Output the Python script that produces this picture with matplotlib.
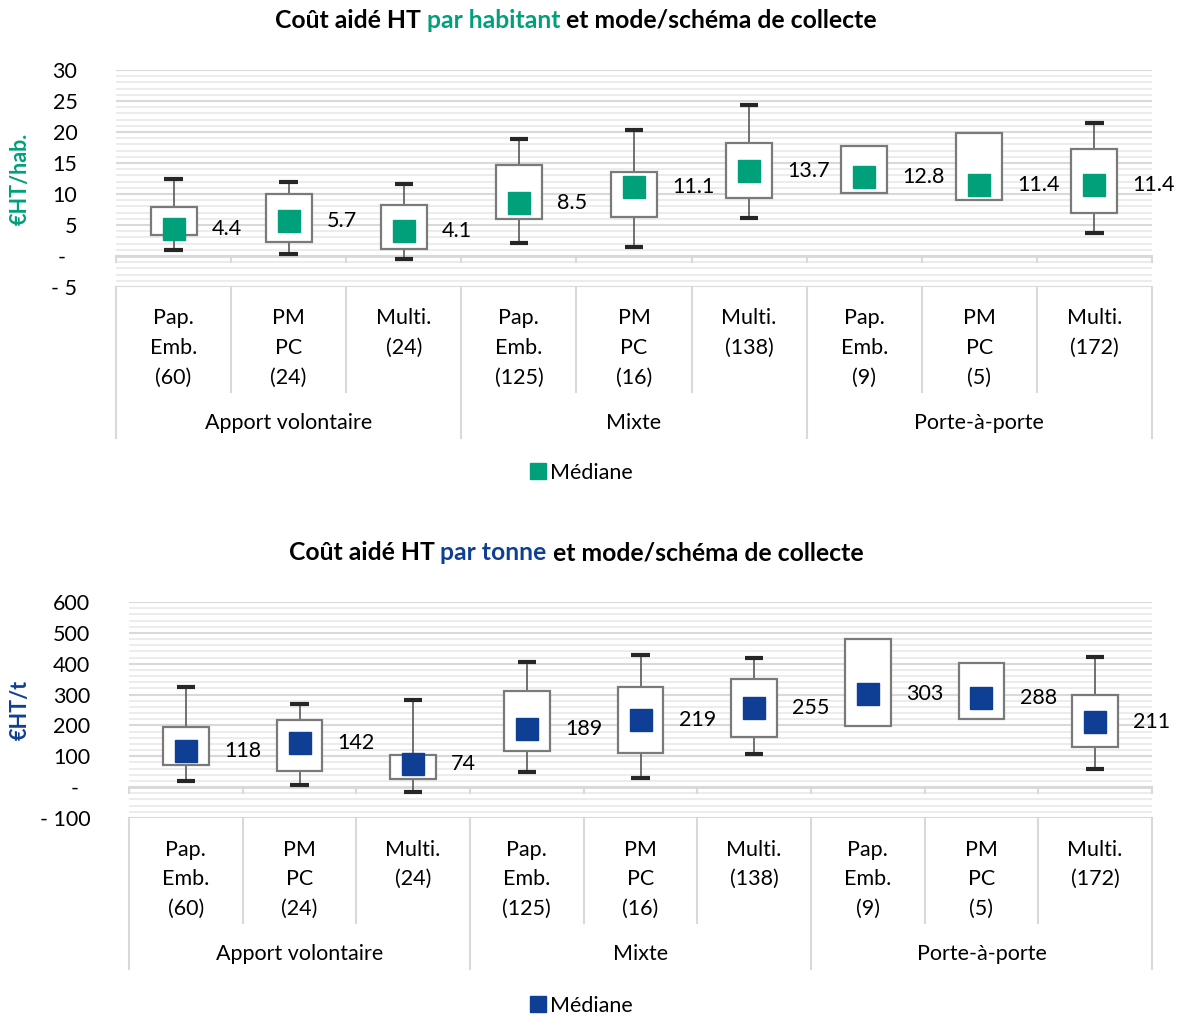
import matplotlib
matplotlib.use("Agg")
import matplotlib.pyplot as plt
import matplotlib.transforms as mtransforms
from matplotlib.lines import Line2D
from matplotlib.patches import Rectangle

plt.rcParams['font.family'] = ['Lato', 'DejaVu Sans']

W, H = 1184, 1018
FS = 15.5
TITLE_FS = 17.8

# Category axis: two levels (collection scheme / collection mode)
sub_labels = [["Pap.", "Emb.", "(60)"], ["PM", "PC", "(24)"], ["Multi.", "(24)"],
              ["Pap.", "Emb.", "(125)"], ["PM", "PC", "(16)"], ["Multi.", "(138)"],
              ["Pap.", "Emb.", "(9)"], ["PM", "PC", "(5)"], ["Multi.", "(172)"]]
groups = ["Apport volontaire", "Mixte", "Porte-à-porte"]

# Cost per inhabitant (€HT/hab.)
hab_min = [1.0, 0.3, -0.5, 2.1, 1.5, 6.1, 10.1, 9.1, 3.7]
hab_q1 = [3.4, 2.2, 1.1, 5.9, 6.3, 9.3, 10.1, 9.1, 7.0]
hab_med = [4.4, 5.7, 4.1, 8.5, 11.1, 13.7, 12.8, 11.4, 11.4]
hab_q3 = [7.9, 10.0, 8.3, 14.7, 13.6, 18.3, 17.7, 19.8, 17.3]
hab_max = [12.5, 11.9, 11.6, 18.9, 20.4, 24.4, 17.7, 19.8, 21.5]
hab_ticks = [-5, 0, 5, 10, 15, 20, 25, 30]
hab_ticklabels = ["- 5", "-  ", "5", "10", "15", "20", "25", "30"]

# Cost per tonne (€HT/t)
t_min = [20, 7, -17, 50, 31, 109, 199, 221, 59]
t_q1 = [71, 51, 27, 118, 110, 164, 199, 221, 129]
t_med = [118, 142, 74, 189, 219, 255, 303, 288, 211]
t_q3 = [194, 218, 104, 311, 325, 352, 479, 402, 298]
t_max = [323, 269, 281, 407, 427, 417, 479, 402, 423]
t_ticks = [-100, 0, 100, 200, 300, 400, 500, 600]
t_ticklabels = ["- 100", "-  ", "100", "200", "300", "400", "500", "600"]

GREEN = "#00A07A"
BLUE = "#0F3F94"
GRID = "#D9D9D9"
GRID_MINOR = "#EAEAEA"

fig = plt.figure(figsize=(W / 100, H / 100), dpi=100)


def fy(p):
    return 1 - p / H


def rich_title(y_px, parts, cx_px=576):
    """Centre a one-line title made of differently coloured pieces."""
    fig.canvas.draw()
    r = fig.canvas.get_renderer()
    objs, widths = [], []
    for s, c in parts:
        t = fig.text(0, fy(y_px), s, color=c, fontsize=TITLE_FS, fontweight='bold',
                     va='center', ha='left')
        widths.append(t.get_window_extent(renderer=r).width)
        objs.append(t)
    x = cx_px - sum(widths) / 2
    for t, w in zip(objs, widths):
        t.set_x(x / W)
        x += w


def panel(left, right, top, bottom, ylim, ticks, ticklabels, minor_step,
          vmin, q1, med, q3, vmax, fmt, color, ylabel, title_parts, title_y,
          legend_y):
    ax = fig.add_axes([left / W, fy(bottom), (right - left) / W, (bottom - top) / H])
    n = len(med)
    ax.set_xlim(0, n)
    ax.set_ylim(*ylim)
    for s in ax.spines.values():
        s.set_visible(False)
    ax.set_xticks([])
    ax.set_yticks(ticks)
    ax.set_yticklabels(ticklabels, fontsize=FS)
    ax.tick_params(axis='y', length=0, pad=27.8)
    minors = []
    v = ylim[0]
    while v <= ylim[1] + 1e-9:
        minors.append(v)
        v += minor_step
    ax.set_yticks(minors, minor=True)
    ax.tick_params(axis='y', which='minor', length=0)
    ax.grid(axis='y', which='minor', color=GRID_MINOR, lw=1.3)
    ax.grid(axis='y', which='major', color=GRID, lw=1.5)
    ax.set_axisbelow(True)

    # horizontal axis at zero with small downward ticks at category boundaries
    ax.axhline(0, color=GRID, lw=2, zorder=1)
    btr = mtransforms.blended_transform_factory(ax.transData, fig.transFigure)
    y0_px = H - ax.transData.transform((0, 0))[1]
    for b in range(n + 1):
        ax.add_line(Line2D([b, b], [fy(y0_px), fy(y0_px + 6)], transform=btr,
                           color=GRID, lw=1.5, clip_on=False))

    # box plots: whiskers, box, median marker and its value
    bw = 0.4
    cw = 0.16
    for i in range(n):
        x = i + 0.5
        if vmax[i] > q3[i]:
            ax.plot([x, x], [q3[i], vmax[i]], color="#595959", lw=1.2, zorder=2)
            ax.plot([x - cw / 2, x + cw / 2], [vmax[i], vmax[i]], color="#262626",
                    lw=3, solid_capstyle='butt', zorder=3)
        if vmin[i] < q1[i]:
            ax.plot([x, x], [vmin[i], q1[i]], color="#595959", lw=1.2, zorder=2)
            ax.plot([x - cw / 2, x + cw / 2], [vmin[i], vmin[i]], color="#262626",
                    lw=3, solid_capstyle='butt', zorder=3)
        ax.add_patch(Rectangle((x - bw / 2, q1[i]), bw, q3[i] - q1[i],
                               facecolor='white', edgecolor="#7A7A7A", lw=1.6, zorder=4))
        ax.plot([x], [med[i]], marker='s', ms=16, color=color, mec=color, zorder=5)
        ax.annotate(fmt.format(med[i]), (x, med[i]), xytext=(27.5, 0),
                    textcoords='offset points', ha='left', va='center',
                    fontsize=FS, color='black', zorder=6)

    # two-level category table below the plot area
    for b in range(n + 1):
        end = bottom + (151 if b % 3 == 0 else 105)
        ax.add_line(Line2D([b, b], [fy(bottom), fy(end)], transform=btr,
                           color=GRID, lw=1.5, clip_on=False))
    line_offsets = [31.5, 61, 90.5]
    for i, lines in enumerate(sub_labels):
        for k, s in enumerate(lines):
            ax.text(i + 0.5, fy(bottom + line_offsets[k]), s, transform=btr,
                    ha='center', va='center', fontsize=FS)
    for g, name in enumerate(groups):
        ax.text(g * 3 + 1.5, fy(bottom + 136), name, transform=btr,
                ha='center', va='center', fontsize=FS)

    fig.text(20 / W, fy((top + bottom) / 2), ylabel, rotation=90, color=color,
             fontweight='bold', fontsize=FS, ha='center', va='center')

    rich_title(title_y, title_parts)

    h = Line2D([], [], marker='s', ls='none', ms=11, color=color)
    fig.legend([h], ["Médiane"], loc='center', bbox_to_anchor=(580 / W, fy(legend_y)),
               frameon=False, fontsize=FS, handletextpad=0.1, handlelength=1.0,
               borderpad=0)
    return ax


panel(116, 1152, 70, 287, (-5, 30), hab_ticks, hab_ticklabels, 1,
      hab_min, hab_q1, hab_med, hab_q3, hab_max, "{:.1f}", GREEN, "€HT/hab.",
      [("Coût aidé HT ", "black"), ("par habitant", GREEN),
       (" et mode/schéma de collecte", "black")], 20, 473)

panel(129, 1152, 602, 818, (-100, 600), t_ticks, t_ticklabels, 20,
      t_min, t_q1, t_med, t_q3, t_max, "{:d}", BLUE, "€HT/t",
      [("Coût aidé HT ", "black"), ("par tonne", BLUE),
       (" et mode/schéma de collecte", "black")], 553, 1006)

fig.savefig("out.png", dpi=100)
